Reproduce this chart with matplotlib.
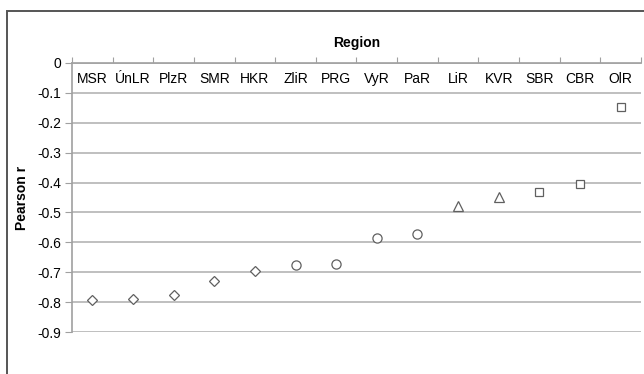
import numpy as np
import matplotlib
matplotlib.use("Agg")
import matplotlib.pyplot as plt
from matplotlib.patches import Rectangle

plt.rcParams['font.family'] = ['Liberation Sans', 'DejaVu Sans']

# Regions ordered by correlation
regions = ['MSR', 'ÚnLR', 'PlzR', 'SMR', 'HKR', 'ZliR', 'PRG',
           'VyR', 'PaR', 'LiR', 'KVR', 'SBR', 'CBR', 'OlR']
pearson_r = [-0.794, -0.790, -0.776, -0.729, -0.695, -0.677, -0.672,
             -0.584, -0.573, -0.478, -0.447, -0.431, -0.405, -0.147]
# group of each region (decides marker shape)
groups = ['D', 'D', 'D', 'D', 'D', 'o', 'o', 'o', 'o', '^', '^', 's', 's', 's']
yticks = [0, -0.1, -0.2, -0.3, -0.4, -0.5, -0.6, -0.7, -0.8, -0.9]

marker_size = {'D': 5.2, 'o': 6.6, '^': 6.6, 's': 6.4}

fig = plt.figure(figsize=(6.44, 3.74), dpi=100)
# outer chart frame (cut off at right and bottom like the original)
fig.patches.append(Rectangle((7 / 644, -0.05), 1.2, 1 - 11 / 374 + 0.05,
                             transform=fig.transFigure, fill=False,
                             edgecolor='#555555', linewidth=1.4))

ax = fig.add_axes([72 / 644, 1 - 332 / 374, (641 - 72) / 644, (332 - 63) / 374])

x = np.arange(len(regions))
for xi, val, m in zip(x, pearson_r, groups):
    ax.plot(xi, val, linestyle='none', marker=m, markersize=marker_size[m],
            markerfacecolor='white', markeredgecolor='#606060',
            markeredgewidth=0.9, zorder=3)

ax.set_xlim(-0.5, len(regions) - 0.5)
ax.set_ylim(-0.9, 0)
ax.set_yticks(yticks)
ax.set_yticklabels(['0' if v == 0 else f'{v:.1f}' for v in yticks], fontsize=10)
ax.grid(axis='y', color='#bfbfbf', linewidth=1.4)
ax.set_axisbelow(True)

ax.xaxis.tick_top()
ax.set_xticks(np.arange(-0.5, len(regions), 1))
ax.tick_params(axis='x', direction='out', length=4, color='#a0a0a0',
               labeltop=False, labelbottom=False)
ax.tick_params(axis='y', direction='out', length=5, color='#a0a0a0', pad=3)

for xi, name in zip(x, regions):
    ax.text(xi, -0.054, name, ha='center', va='center', fontsize=10)

ax.text(0.5, 1.05, 'Region', transform=ax.transAxes, ha='center',
        va='bottom', fontsize=10, fontweight='bold')
ax.set_ylabel('Pearson r', fontsize=10, fontweight='bold', labelpad=6)

for side in ['right', 'bottom']:
    ax.spines[side].set_visible(False)
for side in ['top', 'left']:
    ax.spines[side].set_color('#a0a0a0')
    ax.spines[side].set_linewidth(1.2)

fig.savefig('out.png', dpi=100)
